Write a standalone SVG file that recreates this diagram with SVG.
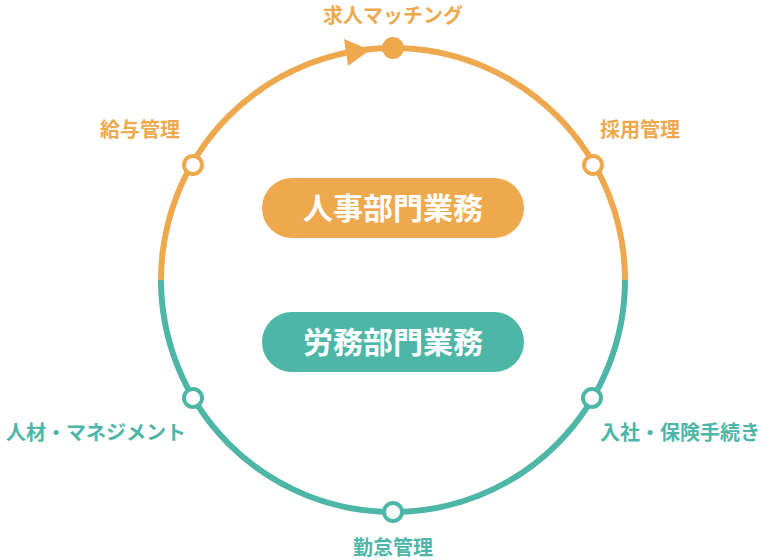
<svg xmlns="http://www.w3.org/2000/svg" width="770" height="560" viewBox="0 0 770 560">
<style>
.o{fill:#EEA94F}.t{fill:#4DB6A6}
.lab{font-family:"Noto Sans CJK JP","Noto Sans",sans-serif;font-weight:bold;font-size:20px}
.pill{font-family:"Noto Sans CJK JP","Noto Sans",sans-serif;font-weight:bold;font-size:30px;fill:#fff}
.ring{fill:#fff;stroke-width:4}
</style>
<rect width="770" height="560" fill="#fff"/>
<g id="connectors" fill="none" stroke-width="6">
<path d="M161,280 A232,232 0 0 1 625,280" stroke="#EEA94F"/>
<path d="M625,280 A232,232 0 0 1 161,280" stroke="#4DB6A6"/>
<polygon points="370,50 344,39 348,66" fill="#EEA94F" stroke="none"/>
</g>
<g id="n-top"><circle cx="393" cy="48" r="11" class="o"/><text x="393" y="23" text-anchor="middle" class="lab o">求人マッチング</text></g>
<g id="n-saiyo"><circle cx="593" cy="165" r="9" class="ring" stroke="#EEA94F"/><text x="640" y="137" text-anchor="middle" class="lab o">採用管理</text></g>
<g id="n-kyuyo"><circle cx="193" cy="165" r="9" class="ring" stroke="#EEA94F"/><text x="140" y="137" text-anchor="middle" class="lab o">給与管理</text></g>
<g id="n-jinzai"><circle cx="193" cy="398" r="9" class="ring" stroke="#4DB6A6"/><text x="96" y="440" text-anchor="middle" class="lab t">人材・マネジメント</text></g>
<g id="n-nyusha"><circle cx="592" cy="398" r="9" class="ring" stroke="#4DB6A6"/><text x="680" y="440" text-anchor="middle" class="lab t">入社・保険手続き</text></g>
<g id="n-kintai"><circle cx="393" cy="512" r="9" class="ring" stroke="#4DB6A6"/><text x="393" y="555" text-anchor="middle" class="lab t">勤怠管理</text></g>
<g id="p-jinji"><rect x="262" y="178" width="262" height="60" rx="30" class="o"/><text x="393" y="219" text-anchor="middle" class="pill">人事部門業務</text></g>
<g id="p-romu"><rect x="262" y="312" width="262" height="60" rx="30" class="t"/><text x="393" y="353" text-anchor="middle" class="pill">労務部門業務</text></g>
</svg>
